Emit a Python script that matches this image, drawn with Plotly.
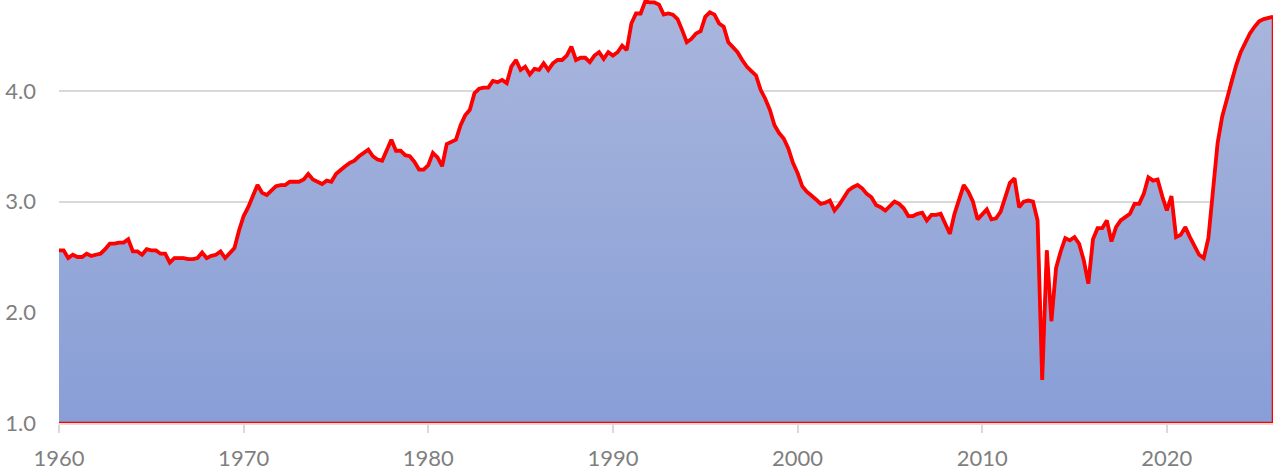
import plotly.graph_objects as go

# Quarterly values, 1960 Q1 .. 2025 Q4 (one row per year)
start_year = 1960
values = [
    2.56, 2.56, 2.49, 2.52,  # 1960
    2.50, 2.50, 2.53, 2.51,  # 1961
    2.52, 2.53, 2.57, 2.62,  # 1962
    2.62, 2.63, 2.63, 2.66,  # 1963
    2.55, 2.55, 2.52, 2.57,  # 1964
    2.56, 2.56, 2.53, 2.53,  # 1965
    2.45, 2.49, 2.49, 2.49,  # 1966
    2.48, 2.48, 2.49, 2.54,  # 1967
    2.49, 2.51, 2.52, 2.55,  # 1968
    2.49, 2.53, 2.58, 2.74,  # 1969
    2.87, 2.95, 3.06, 3.15,  # 1970
    3.08, 3.06, 3.10, 3.14,  # 1971
    3.15, 3.15, 3.18, 3.18,  # 1972
    3.18, 3.20, 3.25, 3.20,  # 1973
    3.18, 3.16, 3.19, 3.18,  # 1974
    3.25, 3.29, 3.32, 3.35,  # 1975
    3.37, 3.41, 3.44, 3.47,  # 1976
    3.41, 3.38, 3.37, 3.47,  # 1977
    3.56, 3.46, 3.46, 3.42,  # 1978
    3.41, 3.36, 3.29, 3.29,  # 1979
    3.33, 3.44, 3.40, 3.32,  # 1980
    3.52, 3.54, 3.56, 3.69,  # 1981
    3.78, 3.83, 3.98, 4.02,  # 1982
    4.03, 4.03, 4.09, 4.08,  # 1983
    4.10, 4.07, 4.22, 4.28,  # 1984
    4.19, 4.22, 4.15, 4.20,  # 1985
    4.19, 4.25, 4.19, 4.25,  # 1986
    4.28, 4.28, 4.32, 4.40,  # 1987
    4.28, 4.30, 4.30, 4.26,  # 1988
    4.32, 4.35, 4.29, 4.35,  # 1989
    4.32, 4.35, 4.41, 4.37,  # 1990
    4.61, 4.70, 4.70, 4.81,  # 1991
    4.80, 4.80, 4.78, 4.69,  # 1992
    4.70, 4.69, 4.65, 4.55,  # 1993
    4.44, 4.47, 4.52, 4.54,  # 1994
    4.67, 4.71, 4.69, 4.61,  # 1995
    4.58, 4.44, 4.40, 4.35,  # 1996
    4.28, 4.22, 4.18, 4.14,  # 1997
    4.01, 3.93, 3.83, 3.69,  # 1998
    3.62, 3.57, 3.48, 3.35,  # 1999
    3.26, 3.14, 3.09, 3.06,  # 2000
    3.02, 2.98, 2.99, 3.01,  # 2001
    2.92, 2.97, 3.03, 3.10,  # 2002
    3.13, 3.15, 3.12, 3.07,  # 2003
    3.04, 2.97, 2.95, 2.92,  # 2004
    2.96, 3.00, 2.98, 2.94,  # 2005
    2.87, 2.87, 2.89, 2.90,  # 2006
    2.83, 2.88, 2.88, 2.89,  # 2007
    2.80, 2.71, 2.89, 3.03,  # 2008
    3.15, 3.09, 3.00, 2.84,  # 2009
    2.89, 2.93, 2.84, 2.85,  # 2010
    2.91, 3.04, 3.17, 3.21,  # 2011
    2.95, 3.00, 3.01, 3.00,  # 2012
    2.83, 1.39, 2.56, 1.92,  # 2013
    2.40, 2.55, 2.67, 2.65,  # 2014
    2.68, 2.62, 2.47, 2.26,  # 2015
    2.66, 2.76, 2.76, 2.83,  # 2016
    2.64, 2.77, 2.83, 2.86,  # 2017
    2.89, 2.98, 2.98, 3.07,  # 2018
    3.22, 3.19, 3.20, 3.05,  # 2019
    2.92, 3.05, 2.68, 2.70,  # 2020
    2.77, 2.68, 2.60, 2.52,  # 2021
    2.49, 2.67, 3.10, 3.53,  # 2022
    3.77, 3.92, 4.10, 4.23,  # 2023
    4.35, 4.44, 4.52, 4.58,  # 2024
    4.63, 4.65, 4.66, 4.67,  # 2025
]
x_tick_years = [1960, 1970, 1980, 1990, 2000, 2010, 2020]
y_tick_vals = [1.0, 2.0, 3.0, 4.0]
y_tick_text = ["1.0", "2.0", "3.0", "4.0"]

Y_MIN = 1.0
Y_MAX = 4.822

x = [start_year + i / 4 for i in range(len(values))]

fig = go.Figure()

# Filled area (closed polygon down to the axis floor) with thin red outline
fig.add_trace(go.Scatter(
    x=x + [x[-1], x[0]],
    y=values + [Y_MIN, Y_MIN],
    mode="lines",
    fill="toself",
    fillgradient=dict(
        type="vertical",
        colorscale=[[0, "#889ed6"], [1, "#a9b6dd"]],
        start=Y_MIN,
        stop=Y_MAX,
    ),
    line=dict(color="#ff0000", width=2.5),
    hoverinfo="skip",
    showlegend=False,
))

# Thick red data line
fig.add_trace(go.Scatter(
    x=x,
    y=values,
    mode="lines",
    line=dict(color="#ff0000", width=3.8),
    showlegend=False,
))

font_color = "#7f7f7f"

fig.update_layout(
    width=1275,
    height=476,
    margin=dict(l=59, r=2, t=0, b=53),
    paper_bgcolor="white",
    plot_bgcolor="white",
    font=dict(family="Lato", size=22, color=font_color),
    showlegend=False,
    xaxis=dict(
        range=[x[0], x[-1]],
        tickvals=x_tick_years,
        ticktext=[str(v) for v in x_tick_years],
        ticks="outside",
        ticklen=8,
        tickwidth=2,
        tickcolor="#d9d9d9",
        showgrid=False,
        zeroline=False,
        showline=True,
        linecolor="#e3d9d9",
        linewidth=2,
        layer="below traces",
        ticklabelstandoff=7,
    ),
    yaxis=dict(
        range=[Y_MIN, Y_MAX],
        tickvals=y_tick_vals,
        ticktext=y_tick_text,
        showgrid=True,
        gridcolor="#d9d9d9",
        gridwidth=2,
        zeroline=False,
        showline=False,
        ticks="",
        ticklabelstandoff=22,
    ),
)

fig.write_html(
    "out.html",
    config={"displayModeBar": False},
    post_script="document.body.style.margin='0px';document.body.style.overflow='hidden';",
)
